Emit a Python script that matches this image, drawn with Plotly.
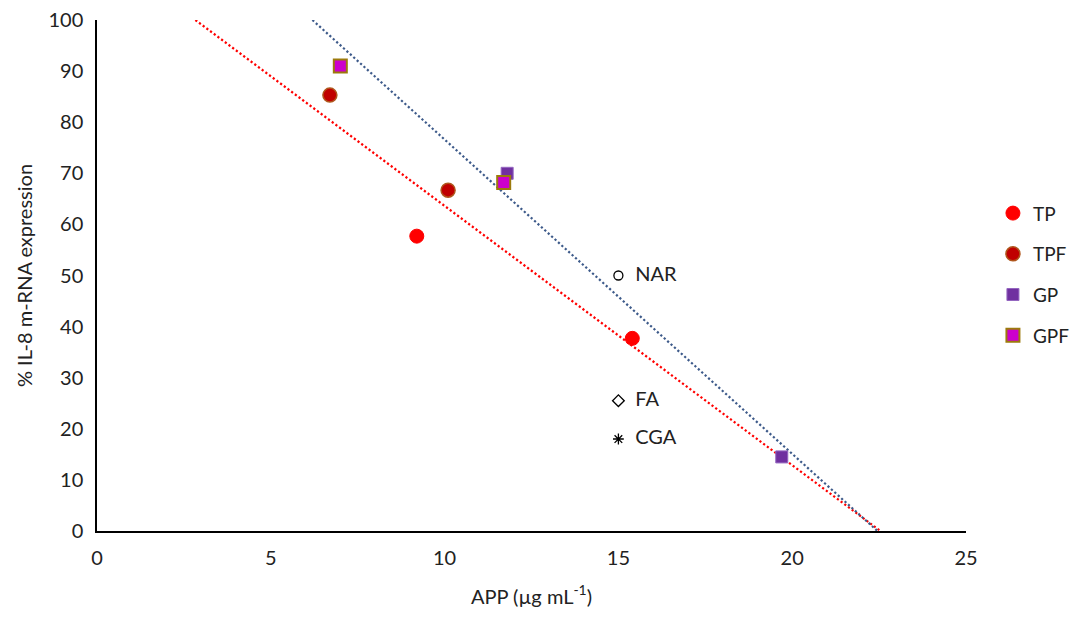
import numpy as np
import plotly.graph_objects as go

# Measured data: APP concentration (µg/mL) vs % IL-8 mRNA expression
tp_x = [9.2, 15.4]
tp_y = [57.7, 37.7]
tpf_x = [6.7, 10.1]
tpf_y = [85.3, 66.7]
gp_x = [11.8, 19.7]
gp_y = [70.0, 14.5]
gpf_x = [7.0, 11.7]
gpf_y = [91.0, 68.2]

# Reference compounds
ref_names = ["NAR", "FA", "CGA"]
ref_x = [15.0, 15.0, 15.0]
ref_y = [50.0, 25.5, 18.0]

x_ticks = [0, 5, 10, 15, 20, 25]
y_ticks = list(range(0, 101, 10))

FONT = "Lato, 'Open Sans', sans-serif"


def trend(xs, ys):
    """Least-squares line drawn between y = 100 and y = 0."""
    m, b = np.polyfit(xs, ys, 1)
    x_top = (100 - b) / m
    x_zero = -b / m
    return [x_top, x_zero], [m * x_top + b, m * x_zero + b]


fig = go.Figure()

# Linear trend lines: TP+TPF (red) and GP+GPF (slate blue)
rx, ry = trend(tp_x + tpf_x, tp_y + tpf_y)
bx, by = trend(gp_x + gpf_x, gp_y + gpf_y)
fig.add_trace(go.Scatter(x=rx, y=ry, mode="lines", showlegend=False, hoverinfo="skip",
                         line=dict(color="#FF0000", width=2.2, dash="2.2px,2.4px")))
fig.add_trace(go.Scatter(x=bx, y=by, mode="lines", showlegend=False, hoverinfo="skip",
                         line=dict(color="#3D5A8A", width=2.2, dash="2.2px,2.4px")))

fig.add_trace(go.Scatter(x=tp_x, y=tp_y, mode="markers", name="TP", legendgroup="a",
                         marker=dict(symbol="circle", size=14, color="#FF0000",
                                     line=dict(color="#FF0000", width=1))))
fig.add_trace(go.Scatter(x=tpf_x, y=tpf_y, mode="markers", name="TPF", legendgroup="b",
                         marker=dict(symbol="circle", size=14, color="#C00000",
                                     line=dict(color="#B0561C", width=1.5))))
fig.add_trace(go.Scatter(x=gp_x, y=gp_y, mode="markers", name="GP", legendgroup="c",
                         marker=dict(symbol="square", size=12, color="#7030A0",
                                     line=dict(color="#9466C0", width=1))))
fig.add_trace(go.Scatter(x=gpf_x, y=gpf_y, mode="markers", name="GPF", legendgroup="d",
                         marker=dict(symbol="square", size=13, color="#CC00CC",
                                     line=dict(color="#9C7A0C", width=2))))

# Reference compounds with their own labels
ref_symbols = ["circle-open", "diamond-open", "asterisk-open"]
for name, x, y, sym in zip(ref_names, ref_x, ref_y, ref_symbols):
    fig.add_trace(go.Scatter(x=[x], y=[y], mode="markers+text", text=["  " + name],
                             textposition="middle right", showlegend=False,
                             textfont=dict(family=FONT, size=20, color="#222222"),
                             marker=dict(symbol=sym, size=9, color="#000000",
                                         line=dict(color="#000000", width=1.3))))

fig.update_layout(
    width=1075, height=617,
    margin=dict(l=97, r=109, t=20, b=86, autoexpand=False),
    paper_bgcolor="white", plot_bgcolor="white",
    font=dict(family=FONT, size=20, color="#222222"),
    legend=dict(x=1.031, y=0.659, xanchor="left", yanchor="top",
                tracegroupgap=13, font=dict(size=19), itemwidth=30,
                itemsizing="trace", bgcolor="rgba(0,0,0,0)"),
    xaxis=dict(range=[0, 25], tickvals=x_ticks, showgrid=False, zeroline=False,
               showline=True, linecolor="#000000", linewidth=1.5, ticks="outside",
               ticklen=8, tickcolor="rgba(0,0,0,0)", tickfont=dict(size=20),
               title=dict(text="APP (µg mL<sup>-1</sup>)", font=dict(size=20), standoff=22)),
    yaxis=dict(range=[0, 100], tickvals=y_ticks, showgrid=False, zeroline=False,
               showline=True, linecolor="#000000", linewidth=1.5, ticks="outside",
               ticklen=8, tickcolor="rgba(0,0,0,0)", tickfont=dict(size=20),
               title=dict(text="% IL-8 m-RNA expression", font=dict(size=20), standoff=10)),
)

fig.write_html("out.html")
